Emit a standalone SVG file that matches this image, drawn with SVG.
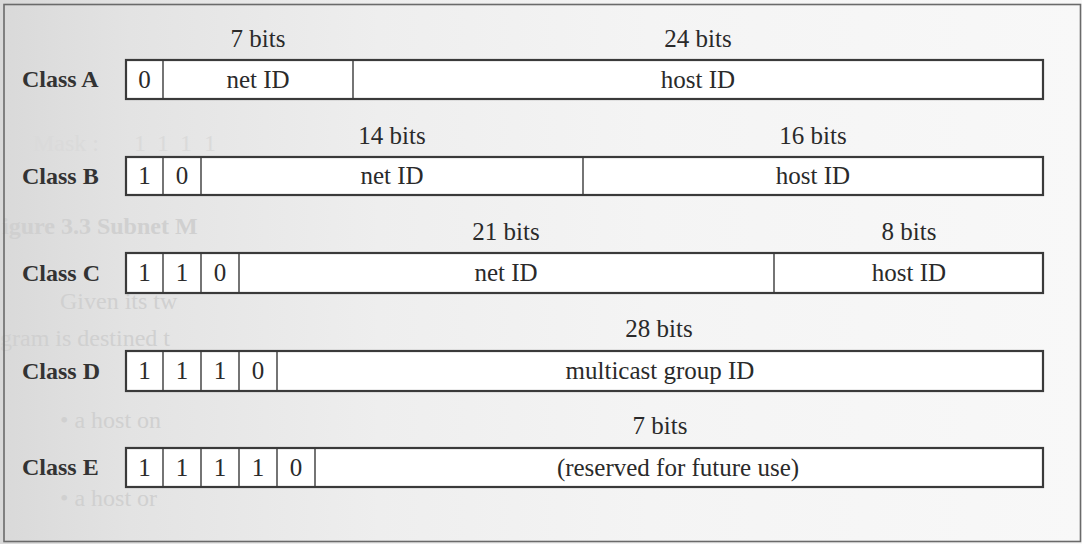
<svg xmlns="http://www.w3.org/2000/svg" width="1082" height="544" viewBox="0 0 1082 544">
  <defs>
    <linearGradient id="paper" x1="0" y1="0" x2="1" y2="0">
      <stop offset="0" stop-color="#d9d9d9"/>
      <stop offset="0.12" stop-color="#e3e3e3"/>
      <stop offset="0.35" stop-color="#eeeeee"/>
      <stop offset="0.6" stop-color="#f4f4f4"/>
      <stop offset="1" stop-color="#f8f8f8"/>
    </linearGradient>
    <style>
      .frame { fill: none; stroke: #6a6a6a; stroke-width: 1.6; }
      .box { fill: #ffffff; stroke: #3a3a3a; stroke-width: 2.2; }
      .div { stroke: #3a3a3a; stroke-width: 1.4; }
      .lbl { font-family: "Liberation Serif", serif; font-weight: bold; font-size: 24px; fill: #333333; }
      .t { font-family: "Liberation Serif", serif; font-size: 25px; fill: #2a2a2a; text-anchor: middle; }
      .ghost { font-family: "Liberation Serif", serif; font-size: 24px; fill: #d0d0d0; }
      .faint { fill: #dadada; }
    </style>
  </defs>

  <!-- page background and frame -->
  <rect x="0" y="0" width="1082" height="544" fill="url(#paper)"/>
  <g id="showthrough">
    <text class="ghost faint" y="151"><tspan x="33">Mask :</tspan><tspan x="134">1</tspan><tspan x="157">1</tspan><tspan x="180">1</tspan><tspan x="204">1</tspan></text>
    <text class="ghost" x="2" y="234" font-size="26" font-weight="bold">igure 3.3 Subnet M</text>
    <text class="ghost" x="60" y="309">Given its tw</text>
    <text class="ghost" x="0" y="346">gram is destined t</text>
    <text class="ghost" x="60" y="428">•    a host on</text>
    <text class="ghost" x="60" y="506">•    a host or</text>
  </g>
  <rect class="frame" x="4" y="4.5" width="1076.5" height="537"/>

  <!-- Class A -->
  <g id="class-a">
    <text class="lbl" x="22" y="87">Class A</text>
    <text class="t" x="258" y="47">7 bits</text>
    <text class="t" x="698" y="47">24 bits</text>
    <rect class="box" x="126" y="60" width="917" height="39"/>
    <line class="div" x1="163" y1="60" x2="163" y2="99"/>
    <line class="div" x1="353" y1="60" x2="353" y2="99"/>
    <text class="t" x="144.5" y="88">0</text>
    <text class="t" x="258" y="88">net ID</text>
    <text class="t" x="698" y="88">host ID</text>
  </g>

  <!-- Class B -->
  <g id="class-b">
    <text class="lbl" x="22" y="184">Class B</text>
    <text class="t" x="392" y="144">14 bits</text>
    <text class="t" x="813" y="144">16 bits</text>
    <rect class="box" x="126" y="157" width="917" height="38"/>
    <line class="div" x1="163" y1="157" x2="163" y2="195"/>
    <line class="div" x1="201" y1="157" x2="201" y2="195"/>
    <line class="div" x1="583" y1="157" x2="583" y2="195"/>
    <text class="t" x="144.5" y="184">1</text>
    <text class="t" x="182" y="184">0</text>
    <text class="t" x="392" y="184">net ID</text>
    <text class="t" x="813" y="184">host ID</text>
  </g>

  <!-- Class C -->
  <g id="class-c">
    <text class="lbl" x="22" y="281">Class C</text>
    <text class="t" x="506" y="240">21 bits</text>
    <text class="t" x="909" y="240">8 bits</text>
    <rect class="box" x="126" y="253" width="917" height="40"/>
    <line class="div" x1="163" y1="253" x2="163" y2="293"/>
    <line class="div" x1="201" y1="253" x2="201" y2="293"/>
    <line class="div" x1="239" y1="253" x2="239" y2="293"/>
    <line class="div" x1="774" y1="253" x2="774" y2="293"/>
    <text class="t" x="144.5" y="281">1</text>
    <text class="t" x="182" y="281">1</text>
    <text class="t" x="220" y="281">0</text>
    <text class="t" x="506" y="281">net ID</text>
    <text class="t" x="909" y="281">host ID</text>
  </g>

  <!-- Class D -->
  <g id="class-d">
    <text class="lbl" x="22" y="379">Class D</text>
    <text class="t" x="659" y="337">28 bits</text>
    <rect class="box" x="126" y="351" width="917" height="40"/>
    <line class="div" x1="163" y1="351" x2="163" y2="391"/>
    <line class="div" x1="201" y1="351" x2="201" y2="391"/>
    <line class="div" x1="239" y1="351" x2="239" y2="391"/>
    <line class="div" x1="277" y1="351" x2="277" y2="391"/>
    <text class="t" x="144.5" y="379">1</text>
    <text class="t" x="182" y="379">1</text>
    <text class="t" x="220" y="379">1</text>
    <text class="t" x="258" y="379">0</text>
    <text class="t" x="660" y="379">multicast group ID</text>
  </g>

  <!-- Class E -->
  <g id="class-e">
    <text class="lbl" x="22" y="475">Class E</text>
    <text class="t" x="660" y="434">7 bits</text>
    <rect class="box" x="126" y="448" width="917" height="39"/>
    <line class="div" x1="163" y1="448" x2="163" y2="487"/>
    <line class="div" x1="201" y1="448" x2="201" y2="487"/>
    <line class="div" x1="239" y1="448" x2="239" y2="487"/>
    <line class="div" x1="277" y1="448" x2="277" y2="487"/>
    <line class="div" x1="315" y1="448" x2="315" y2="487"/>
    <text class="t" x="144.5" y="476">1</text>
    <text class="t" x="182" y="476">1</text>
    <text class="t" x="220" y="476">1</text>
    <text class="t" x="258" y="476">1</text>
    <text class="t" x="296" y="476">0</text>
    <text class="t" x="678" y="476">(reserved for future use)</text>
  </g>

  <!-- no connectors in this figure -->
  <g id="connectors"/>
</svg>
